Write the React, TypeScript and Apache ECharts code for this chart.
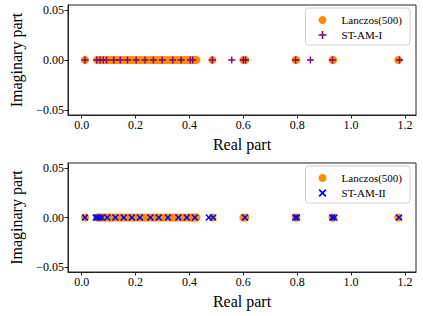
import React, { useEffect, useRef } from "react";
import * as echarts from "echarts";

const lanczosReal = [
  0.012, 0.057, 0.063, 0.069, 0.076, 0.083, 0.091, 0.099, 0.108, 0.117, 0.127,
  0.137, 0.148, 0.159, 0.17, 0.182, 0.194, 0.206, 0.218, 0.231, 0.243, 0.256,
  0.268, 0.281, 0.293, 0.305, 0.318, 0.33, 0.342, 0.354, 0.366, 0.377, 0.388,
  0.398, 0.407, 0.415, 0.421, 0.426, 0.485, 0.6, 0.608, 0.794, 0.797, 0.931,
  0.934, 1.175,
];
const stam1Real = [
  0.012, 0.056, 0.068, 0.08, 0.092, 0.119, 0.143, 0.17, 0.202, 0.235, 0.266,
  0.299, 0.338, 0.369, 0.403, 0.412, 0.485, 0.557, 0.6, 0.608, 0.794, 0.849,
  0.931, 1.18,
];
const stam2Real = [
  0.012, 0.052, 0.058, 0.066, 0.075, 0.095, 0.125, 0.156, 0.186, 0.216, 0.255,
  0.286, 0.32, 0.359, 0.39, 0.42, 0.472, 0.488, 0.606, 0.793, 0.799, 0.93,
  0.938, 1.178,
];
const xTicks = [0, 0.2, 0.4, 0.6, 0.8, 1.0, 1.2];
const yTicks = [-0.05, 0, 0.05];

const PLUS = "path://M4,0 H6 V4 H10 V6 H6 V10 H4 V6 H0 V4 H4 Z";
const CROSS =
  "path://M1.5,0 L5,3.5 L8.5,0 L10,1.5 L6.5,5 L10,8.5 L8.5,10 L5,6.5 L1.5,10 L0,8.5 L3.5,5 L0,1.5 Z";
const FONT = "Liberation Serif";

export default function App() {
  const ref = useRef<HTMLDivElement>(null);
  useEffect(() => {
    document.body.style.margin = "0";
    if (!ref.current) return;
    const chart = echarts.init(ref.current, undefined, { renderer: "svg" });
    const grids = [
      { left: 62, top: 5, width: 354, height: 110 },
      { left: 62, top: 163, width: 354, height: 109 },
    ];
    const xAxis = grids.map((_, i) => ({
      type: "value",
      gridIndex: i,
      min: -0.051,
      max: 1.241,
      name: "Real part",
      nameLocation: "middle",
      nameGap: 21,
      nameTextStyle: { fontFamily: FONT, fontSize: 16, color: "#000" },
      axisLine: { show: true, onZero: false, lineStyle: { color: "#222", width: 1 } },
      axisTick: {
        show: true,
        length: 3.5,
        customValues: xTicks,
        lineStyle: { color: "#222" },
      },
      axisLabel: {
        customValues: xTicks,
        formatter: (v: number) => v.toFixed(1),
        fontFamily: FONT,
        fontSize: 12,
        color: "#000",
        margin: 4,
      },
      splitLine: { show: false },
    }));
    const yAxis = grids.map((_, i) => ({
      type: "value",
      gridIndex: i,
      min: -0.055,
      max: 0.055,
      name: "Imaginary part",
      nameLocation: "middle",
      nameGap: 44,
      nameTextStyle: { fontFamily: FONT, fontSize: 16, color: "#000" },
      axisLine: { show: true, onZero: false, lineStyle: { color: "#222", width: 1 } },
      axisTick: {
        show: true,
        length: 3.5,
        customValues: yTicks,
        lineStyle: { color: "#222" },
      },
      axisLabel: {
        customValues: yTicks,
        formatter: (v: number) =>
          (v < -1e-9 ? "\u2212" : "") + Math.abs(v).toFixed(2),
        fontFamily: FONT,
        fontSize: 12,
        color: "#000",
        margin: 4,
      },
      splitLine: { show: false },
    }));
    const legendBase = {
      orient: "vertical",
      right: 13,
      itemWidth: 8,
      itemHeight: 8,
      itemGap: 3,
      padding: [6, 8, 4, 13],
      borderColor: "#d0d0d0",
      borderWidth: 1,
      borderRadius: 3,
      backgroundColor: "rgba(255,255,255,0.8)",
      textStyle: {
        fontFamily: FONT,
        fontSize: 11,
        color: "#000",
        lineHeight: 12,
        padding: [0, 0, 0, 10],
      },
    };
    chart.setOption({
      animation: false,
      grid: grids.map((g) => ({
        ...g,
        show: true,
        borderColor: "#222",
        borderWidth: 1,
        backgroundColor: "transparent",
      })),
      xAxis,
      yAxis,
      legend: [
        {
          ...legendBase,
          top: 8,
          data: [
            { name: "Lanczos(500)", icon: "circle" },
            { name: "ST-AM-I", icon: PLUS },
          ],
        },
        {
          ...legendBase,
          top: 166,
          data: [
            { name: "Lanczos(500)", icon: "circle" },
            { name: "ST-AM-II", icon: CROSS },
          ],
        },
      ],
      series: [
        {
          name: "Lanczos(500)",
          type: "scatter",
          xAxisIndex: 0,
          yAxisIndex: 0,
          symbol: "circle",
          symbolSize: 8,
          itemStyle: { color: "#ff8c00", opacity: 1 },
          data: lanczosReal.map((x) => [x, 0]),
        },
        {
          name: "ST-AM-I",
          type: "scatter",
          xAxisIndex: 0,
          yAxisIndex: 0,
          symbol: PLUS,
          symbolSize: 7,
          itemStyle: { color: "#800080", opacity: 1 },
          data: stam1Real.map((x) => [x, 0]),
        },
        {
          name: "Lanczos(500)",
          type: "scatter",
          xAxisIndex: 1,
          yAxisIndex: 1,
          symbol: "circle",
          symbolSize: 8,
          itemStyle: { color: "#ff8c00", opacity: 1 },
          data: lanczosReal.map((x) => [x, 0]),
        },
        {
          name: "ST-AM-II",
          type: "scatter",
          xAxisIndex: 1,
          yAxisIndex: 1,
          symbol: CROSS,
          symbolSize: 7,
          itemStyle: { color: "#0000ff", opacity: 1 },
          data: stam2Real.map((x) => [x, 0]),
        },
      ],
    });
    return () => chart.dispose();
  }, []);
  return <div ref={ref} style={{ width: 423, height: 316 }} />;
}
